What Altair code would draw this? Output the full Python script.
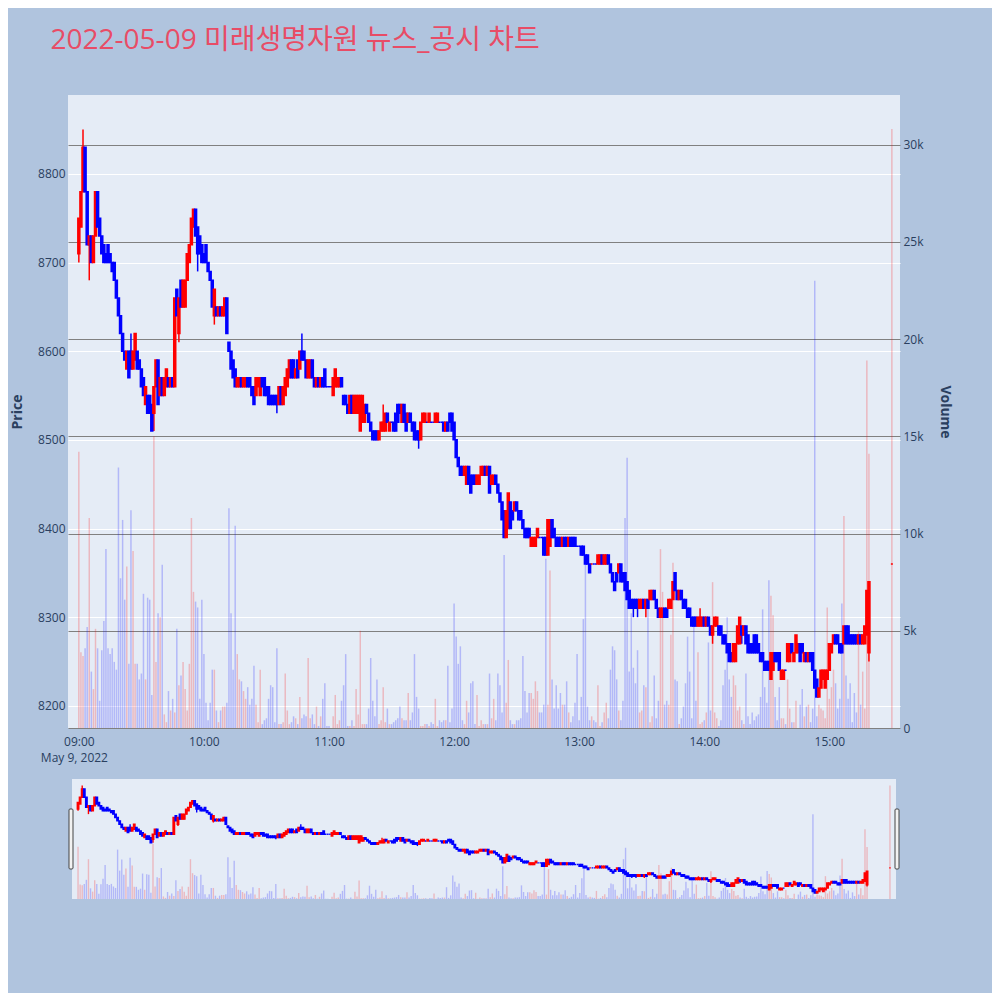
import altair as alt
import pandas as pd

TITLE = "2022-05-09 미래생명자원 뉴스_공시 차트"

# minute offsets from 09:00 (continuous session 09:00-15:19, closing auction 15:30)
minutes = list(range(380)) + [390]

opens = [
    8710, 8740, 8780, 8830, 8780, 8720, 8730, 8700, 8730, 8780,
    8750, 8730, 8720, 8710, 8720, 8710, 8700, 8700, 8680, 8660,
    8640, 8620, 8600, 8580, 8600, 8600, 8580, 8590, 8600, 8590,
    8580, 8570, 8540, 8550, 8550, 8540, 8530, 8560, 8590, 8550,
    8570, 8550, 8560, 8570, 8560, 8570, 8560, 8670, 8620, 8680,
    8650, 8650, 8680, 8700, 8720, 8740, 8760, 8740, 8730, 8720,
    8710, 8720, 8700, 8690, 8680, 8640, 8650, 8640, 8650, 8640,
    8640, 8660, 8610, 8600, 8590, 8580, 8560, 8560, 8570, 8560,
    8560, 8570, 8570, 8560, 8560, 8550, 8560, 8550, 8570, 8570,
    8560, 8560, 8550, 8550, 8550, 8550, 8540, 8560, 8540, 8550,
    8560, 8570, 8590, 8590, 8570, 8590, 8580, 8600, 8600, 8590,
    8570, 8570, 8590, 8570, 8560, 8570, 8560, 8570, 8580, 8560,
    8560, 8560, 8550, 8560, 8560, 8560, 8570, 8550, 8550, 8540,
    8530, 8550, 8530, 8530, 8530, 8510, 8520, 8520, 8540, 8530,
    8520, 8510, 8510, 8510, 8500, 8510, 8510, 8510, 8530, 8510,
    8520, 8520, 8530, 8540, 8540, 8520, 8540, 8530, 8520, 8530,
    8520, 8520, 8510, 8510, 8500, 8520, 8520, 8520, 8520, 8520,
    8520, 8520, 8520, 8520, 8520, 8520, 8510, 8520, 8530, 8530,
    8520, 8500, 8480, 8470, 8470, 8460, 8450, 8470, 8460, 8460,
    8460, 8450, 8450, 8460, 8460, 8470, 8460, 8470, 8450, 8450,
    8460, 8450, 8440, 8430, 8420, 8390, 8400, 8430, 8420, 8420,
    8430, 8420, 8420, 8410, 8400, 8400, 8400, 8380, 8380, 8380,
    8390, 8390, 8390, 8390, 8390, 8370, 8380, 8410, 8400, 8390,
    8390, 8390, 8380, 8390, 8390, 8380, 8390, 8390, 8390, 8380,
    8380, 8380, 8380, 8370, 8370, 8360, 8360, 8360, 8360, 8360,
    8360, 8370, 8360, 8360, 8370, 8360, 8350, 8340, 8350, 8350,
    8360, 8350, 8350, 8340, 8330, 8320, 8320, 8320, 8320, 8310,
    8310, 8320, 8310, 8320, 8320, 8320, 8330, 8320, 8310, 8300,
    8300, 8310, 8310, 8310, 8310, 8320, 8350, 8330, 8320, 8330,
    8320, 8320, 8310, 8310, 8300, 8300, 8300, 8290, 8290, 8290,
    8300, 8290, 8300, 8290, 8280, 8290, 8290, 8290, 8290, 8280,
    8280, 8270, 8270, 8260, 8250, 8250, 8270, 8270, 8290, 8280,
    8290, 8280, 8270, 8270, 8280, 8280, 8270, 8260, 8260, 8250,
    8250, 8250, 8230, 8240, 8260, 8260, 8260, 8230, 8230, 8240,
    8250, 8250, 8270, 8250, 8260, 8260, 8270, 8270, 8250, 8260,
    8250, 8260, 8260, 8240, 8230, 8210, 8220, 8230, 8220, 8230,
    8240, 8260, 8270, 8280, 8280, 8270, 8270, 8270, 8290, 8290,
    8280, 8280, 8280, 8280, 8270, 8280, 8270, 8270, 8280, 8260,
    8360,
]

closes = [
    8750, 8780, 8830, 8780, 8720, 8730, 8700, 8730, 8780, 8740,
    8730, 8710, 8700, 8700, 8700, 8700, 8690, 8680, 8660, 8640,
    8620, 8600, 8590, 8600, 8570, 8580, 8600, 8620, 8580, 8580,
    8560, 8550, 8560, 8530, 8530, 8510, 8560, 8590, 8540, 8570,
    8550, 8570, 8580, 8560, 8570, 8560, 8660, 8640, 8660, 8650,
    8680, 8680, 8710, 8720, 8750, 8760, 8730, 8710, 8710, 8700,
    8700, 8700, 8690, 8680, 8650, 8670, 8640, 8650, 8640, 8650,
    8660, 8620, 8600, 8580, 8570, 8560, 8570, 8570, 8560, 8570,
    8570, 8560, 8560, 8550, 8540, 8570, 8570, 8570, 8560, 8550,
    8550, 8540, 8540, 8540, 8540, 8540, 8560, 8540, 8560, 8570,
    8580, 8590, 8570, 8570, 8580, 8570, 8600, 8590, 8590, 8570,
    8590, 8590, 8570, 8560, 8570, 8560, 8570, 8560, 8560, 8560,
    8560, 8560, 8570, 8580, 8570, 8570, 8560, 8540, 8540, 8530,
    8550, 8530, 8550, 8550, 8550, 8550, 8550, 8540, 8530, 8520,
    8510, 8500, 8500, 8500, 8510, 8520, 8520, 8530, 8520, 8520,
    8520, 8510, 8510, 8520, 8530, 8540, 8520, 8510, 8530, 8520,
    8510, 8500, 8500, 8500, 8520, 8530, 8530, 8520, 8530, 8520,
    8520, 8530, 8530, 8520, 8520, 8510, 8520, 8510, 8520, 8510,
    8500, 8480, 8470, 8460, 8460, 8470, 8470, 8450, 8440, 8450,
    8450, 8460, 8460, 8470, 8470, 8460, 8470, 8440, 8460, 8460,
    8450, 8440, 8430, 8410, 8390, 8420, 8440, 8400, 8410, 8430,
    8420, 8410, 8410, 8400, 8390, 8390, 8390, 8390, 8390, 8390,
    8400, 8390, 8390, 8370, 8370, 8410, 8410, 8390, 8390, 8380,
    8380, 8380, 8390, 8380, 8380, 8390, 8380, 8380, 8380, 8380,
    8380, 8370, 8370, 8360, 8360, 8350, 8360, 8360, 8360, 8370,
    8370, 8360, 8370, 8370, 8360, 8350, 8340, 8330, 8340, 8360,
    8340, 8340, 8330, 8320, 8310, 8310, 8310, 8310, 8310, 8320,
    8320, 8310, 8320, 8310, 8330, 8330, 8320, 8310, 8300, 8310,
    8310, 8300, 8300, 8320, 8320, 8340, 8330, 8320, 8330, 8320,
    8310, 8310, 8300, 8300, 8290, 8290, 8290, 8300, 8300, 8300,
    8290, 8300, 8290, 8280, 8290, 8300, 8300, 8280, 8280, 8270,
    8270, 8260, 8250, 8250, 8270, 8270, 8290, 8300, 8280, 8290,
    8270, 8260, 8260, 8260, 8260, 8260, 8260, 8250, 8250, 8240,
    8240, 8240, 8260, 8260, 8250, 8250, 8240, 8240, 8240, 8240,
    8270, 8270, 8260, 8260, 8280, 8270, 8250, 8260, 8260, 8250,
    8260, 8250, 8240, 8220, 8210, 8220, 8240, 8240, 8240, 8240,
    8270, 8270, 8280, 8270, 8270, 8260, 8260, 8290, 8270, 8270,
    8270, 8270, 8270, 8270, 8280, 8270, 8280, 8290, 8330, 8340,
    8360,
]

# wicks that reach beyond the candle body (minute: price)
highs_extra = {2: 8850, 25: 8620, 107: 8620, 146: 8540, 298: 8310}
lows_extra = {0: 8700, 5: 8680, 36: 8510, 48: 8610, 57: 8690, 65: 8630,
              95: 8530, 163: 8490, 266: 8300, 268: 8300, 272: 8300,
              304: 8270, 318: 8270, 379: 8250}

volumes = [
    14200, 3900, 3700, 4100, 5200, 10800, 2900, 2000, 5100, 4100,
    1400, 4000, 5500, 9200, 4100, 3800, 4100, 3400, 3000, 13400,
    7700, 10700, 6600, 8300, 3300, 11200, 9100, 3300, 3300, 2500,
    2800, 6900, 2500, 6700, 6600, 1700, 15000, 3400, 5900, 5700,
    8400, 700, 300, 1900, 900, 1500, 800, 5100, 2200, 2700,
    3400, 2000, 900, 3300, 10800, 7000, 6500, 6200, 1500, 6600,
    3800, 1300, 400, 1300, 3000, 3000, 900, 300, 900, 1100,
    1100, 1300, 11300, 5900, 3000, 10400, 3800, 2500, 2400, 1900,
    1500, 2100, 1200, 1500, 3200, 1200, 300, 3000, 200, 400,
    500, 1500, 2200, 2100, 300, 4100, 200, 200, 300, 2800,
    900, 200, 300, 600, 500, 200, 1600, 500, 700, 600,
    3600, 500, 700, 200, 1100, 100, 600, 1500, 2300, 100,
    100, 0, 600, 1700, 200, 400, 1400, 2200, 3800, 100,
    100, 400, 100, 2000, 700, 5000, 200, 200, 200, 1000,
    3600, 1400, 600, 2500, 200, 400, 2100, 300, 1000, 200,
    200, 300, 400, 500, 1100, 500, 400, 400, 1800, 400,
    800, 3800, 1600, 1000, 100, 100, 200, 200, 100, 300,
    200, 1500, 100, 400, 300, 400, 400, 3200, 300, 1000,
    6400, 4700, 3300, 4200, 400, 200, 1400, 800, 2300, 2400,
    200, 1700, 100, 400, 200, 200, 200, 2800, 500, 1500,
    400, 2800, 2200, 800, 8900, 1300, 3500, 400, 200, 200,
    400, 400, 500, 3700, 1900, 800, 1800, 1800, 1500, 2400,
    1900, 800, 800, 1200, 8700, 1200, 8100, 2500, 1000, 2200,
    1000, 1800, 1200, 1200, 2400, 800, 300, 600, 1300, 3800,
    400, 1600, 5600, 8800, 1100, 400, 600, 400, 300, 2200,
    100, 300, 800, 1300, 500, 3000, 4200, 4000, 2500, 900,
    400, 1400, 10800, 13900, 2900, 5900, 3100, 2300, 4000, 800,
    900, 2200, 2100, 6400, 300, 600, 2700, 500, 1400, 9200,
    7000, 1200, 1400, 1200, 4800, 8500, 2500, 2400, 200, 500,
    1100, 2300, 4700, 2900, 500, 5400, 1400, 3900, 200, 300,
    400, 800, 4400, 900, 7500, 800, 500, 100, 400, 2200,
    3000, 5700, 2500, 1600, 2700, 2200, 900, 1100, 400, 200,
    2800, 600, 200, 800, 400, 600, 700, 1600, 6100, 2100,
    1300, 7600, 6800, 5800, 1600, 400, 2100, 500, 500, 200,
    2500, 1000, 300, 300, 1400, 0, 1200, 2000, 600, 1100,
    1200, 300, 1000, 23000, 600, 1200, 1000, 900, 500, 6200,
    1500, 2100, 3000, 2300, 1000, 1500, 6400, 10900, 2700, 1500,
    2300, 300, 1800, 800, 5000, 1200, 2900, 1000, 18900, 14100,
    30800,
]

hour_ticks = [0, 60, 120, 180, 240, 300, 360]
hour_labels = ["09:00", "10:00", "11:00", "12:00", "13:00", "14:00", "15:00"]
date_label = "May 9, 2022"
price_ticks = [8200, 8300, 8400, 8500, 8600, 8700, 8800]
volume_ticks = [0, 5000, 10000, 15000, 20000, 25000, 30000]
volume_labels = ["0", "5k", "10k", "15k", "20k", "25k", "30k"]

UP, DOWN = "#ff0000", "#0000ff"
BG_PAGE, BG_PLOT = "#b0c4de", "#e5ecf6"
TXT = "#2a3f5f"
FONT = "Open Sans"

# ---- build table ----
rows = []
prev = None
for i, m in enumerate(minutes):
    o, c = opens[i], closes[i]
    h = max(o, c, highs_extra.get(m, o))
    lo = min(o, c, lows_extra.get(m, o))
    if c > o:
        d = "up"
    elif c < o:
        d = "down"
    else:
        d = "up" if (prev is not None and c > prev) else "down"
    rows.append(dict(m=m, open=o, close=c, high=h, low=lo, volume=volumes[i], dir=d))
    prev = c
df = pd.DataFrame(rows)


def mapping_expr(keys, labels):
    parts = [f"datum.value == {k} ? '{lab}'" for k, lab in zip(keys, labels)]
    return " : ".join(parts) + " : ''"


x_label_expr = mapping_expr(hour_ticks, hour_labels)
v_label_expr = mapping_expr(volume_ticks, volume_labels)

color = alt.Color("dir:N", scale=alt.Scale(domain=["up", "down"], range=[UP, DOWN]), legend=None)
price_dom = [8175, 8889]
vol_dom = [0, 32550]
X_DOM_MAIN = [-2.8, 391.5]


def panel(width, height, xdom, body_size, wick_w, vol_size, with_axes):
    base = alt.Chart(df)
    if with_axes:
        first_tick_px = (hour_ticks[0] - xdom[0]) / (xdom[1] - xdom[0]) * width
        xaxis = alt.Axis(values=hour_ticks, labelExpr=x_label_expr, title=date_label,
                         titleX=first_tick_px, titleAlign="center", titleAnchor="start",
                         titleFont=FONT, titleFontSize=12, titleFontWeight="normal",
                         titleColor=TXT, titlePadding=5, grid=False,
                         ticks=False, domain=False, labelPadding=8, labelFontSize=12,
                         labelColor=TXT, labelFont=FONT, labelFlush=False,
                         labelOverlap=False)
        paxis = alt.Axis(orient="left", values=price_ticks, format="d", title="Price",
                         grid=True, gridColor="#ffffff", gridWidth=1, ticks=False,
                         domain=False, labelPadding=3, labelFontSize=12, labelColor=TXT,
                         labelFont=FONT, titleFont=FONT, titleFontSize=14,
                         titleFontWeight="bold", titleColor=TXT, titlePadding=13)
        vaxis = alt.Axis(orient="right", values=volume_ticks, labelExpr=v_label_expr,
                         title="Volume",
                         grid=True, gridColor="#808080", gridWidth=1, ticks=False,
                         domain=False, labelPadding=3, labelFontSize=12, labelColor=TXT,
                         labelFont=FONT, titleFont=FONT, titleFontSize=14,
                         titleFontWeight="bold", titleColor=TXT, titlePadding=14)
    else:
        xaxis = None
        paxis = None
        vaxis = None
    x = alt.X("m:Q", scale=alt.Scale(domain=xdom, nice=False, zero=False), axis=xaxis)

    vol = base.mark_bar(size=vol_size, opacity=0.22).encode(
        x=x,
        y=alt.Y("volume:Q", scale=alt.Scale(domain=vol_dom, nice=False), axis=vaxis),
        color=color,
    )
    pscale = alt.Scale(domain=price_dom, nice=False, zero=False)
    wick = base.mark_rule(strokeWidth=wick_w).encode(
        x=x,
        y=alt.Y("low:Q", scale=pscale, axis=paxis),
        y2="high:Q",
        color=color,
    )
    body = base.mark_bar(size=body_size, strokeWidth=wick_w).encode(
        x=x,
        y=alt.Y("open:Q", scale=pscale, axis=paxis),
        y2="close:Q",
        color=color,
        stroke=color,
    )
    ch = alt.layer(vol, alt.layer(wick, body)).resolve_scale(y="independent")
    return ch.properties(width=width, height=height)


main = panel(832, 633, X_DOM_MAIN, 2, 1.5, 1.5, True)

slider_core = panel(824, 120, [-0.5, 390.5], 1.5, 1.4, 1.4, False)
grab = alt.Chart(pd.DataFrame({"g": [0]}))
grab_l = grab.mark_rect(fill="#f2f2f2", stroke="#444444", strokeWidth=1, cornerRadius=1).encode(
    x=alt.value(-3), x2=alt.value(1), y=alt.value(30), y2=alt.value(90))
grab_r = grab.mark_rect(fill="#f2f2f2", stroke="#444444", strokeWidth=1, cornerRadius=1).encode(
    x=alt.value(823), x2=alt.value(827), y=alt.value(30), y2=alt.value(90))
slider = alt.layer(slider_core, grab_l, grab_r).properties(width=824, height=120)

chart = alt.vconcat(main, slider, spacing=51, center=True, bounds="flush").properties(
    title=alt.TitleParams(TITLE, anchor="start", font="Open Sans, Noto Sans CJK KR",
                          fontSize=28, fontWeight="normal", color="#e84c66", dx=40, offset=40),
    background=BG_PAGE,
    padding={"left": 2, "top": 19, "right": 40, "bottom": 94},
).configure_view(fill=BG_PLOT, stroke=None)

chart.save("out.html", embed_options={"renderer": "svg", "actions": False})
